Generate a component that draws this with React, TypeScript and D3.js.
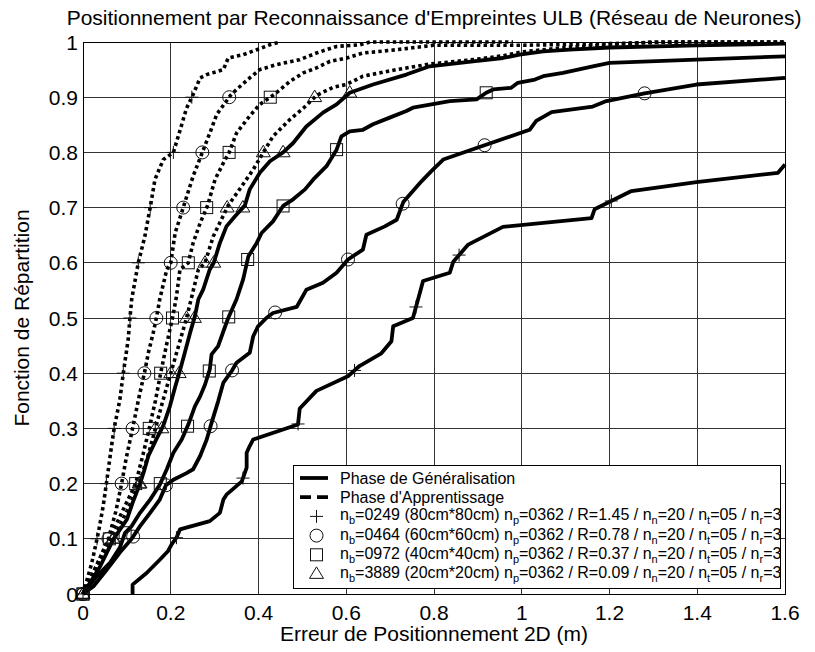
import React from "react";
import * as d3 from "d3";

// ---- axes ----
const X_TICKS = [0, 0.2, 0.4, 0.6, 0.8, 1, 1.2, 1.4, 1.6];
const X_TICK_LABELS = ["0", "0.2", "0.4", "0.6", "0.8", "1", "1.2", "1.4", "1.6"];
const Y_TICKS = [0, 0.1, 0.2, 0.3, 0.4, 0.5, 0.6, 0.7, 0.8, 0.9, 1];
const Y_TICK_LABELS = ["0", "0.1", "0.2", "0.3", "0.4", "0.5", "0.6", "0.7", "0.8", "0.9", "1"];

const TITLE = "Positionnement par Reconnaissance d'Empreintes ULB (Réseau de Neurones)";
const X_LABEL = "Erreur de Positionnement 2D (m)";
const Y_LABEL = "Fonction de Répartition";

// ---- empirical CDFs, generalisation phase (solid) ----
const GEN_80 = [
  [0.113, 0], [0.113, 0.017], [0.145, 0.038], [0.175, 0.062], [0.194, 0.078], [0.202, 0.09],
  [0.213, 0.102], [0.221, 0.117], [0.289, 0.132], [0.312, 0.147], [0.32, 0.171], [0.327, 0.18],
  [0.362, 0.204], [0.373, 0.229], [0.373, 0.256], [0.38, 0.268], [0.388, 0.28], [0.49, 0.307],
  [0.494, 0.336], [0.532, 0.368], [0.605, 0.395], [0.63, 0.413], [0.68, 0.436], [0.703, 0.458],
  [0.707, 0.485], [0.752, 0.5], [0.768, 0.546], [0.775, 0.567], [0.836, 0.582], [0.844, 0.602],
  [0.878, 0.633], [0.957, 0.665], [1.159, 0.681], [1.166, 0.697], [1.25, 0.73], [1.398, 0.746],
  [1.584, 0.763], [1.6, 0.778],
];
const GEN_60 = [
  [0, 0], [0.024, 0.014], [0.054, 0.044], [0.084, 0.075], [0.111, 0.1], [0.13, 0.123],
  [0.153, 0.147], [0.175, 0.171], [0.189, 0.197], [0.206, 0.207], [0.236, 0.219], [0.251, 0.226],
  [0.267, 0.25], [0.282, 0.28], [0.293, 0.31], [0.308, 0.349], [0.32, 0.383], [0.339, 0.404],
  [0.35, 0.419], [0.38, 0.437], [0.388, 0.467], [0.399, 0.485], [0.418, 0.5], [0.433, 0.509],
  [0.487, 0.52], [0.509, 0.551], [0.547, 0.564], [0.578, 0.582], [0.604, 0.606], [0.638, 0.624],
  [0.646, 0.651], [0.688, 0.666], [0.715, 0.678], [0.73, 0.71], [0.772, 0.748], [0.794, 0.766],
  [0.821, 0.787], [0.897, 0.808], [1.018, 0.841], [1.033, 0.857], [1.068, 0.873], [1.162, 0.883],
  [1.193, 0.893], [1.28, 0.907], [1.398, 0.923], [1.6, 0.935],
];
const GEN_40 = [
  [0, 0], [0.031, 0.032], [0.062, 0.057], [0.084, 0.084], [0.096, 0.111], [0.111, 0.123],
  [0.13, 0.147], [0.153, 0.171], [0.175, 0.198], [0.191, 0.226], [0.206, 0.256], [0.225, 0.28],
  [0.24, 0.307], [0.255, 0.34], [0.267, 0.358], [0.278, 0.379], [0.289, 0.407], [0.293, 0.434],
  [0.308, 0.449], [0.32, 0.476], [0.331, 0.5], [0.35, 0.534], [0.365, 0.57], [0.377, 0.612],
  [0.396, 0.636], [0.407, 0.654], [0.433, 0.675], [0.456, 0.703], [0.479, 0.715], [0.506, 0.733],
  [0.525, 0.751], [0.555, 0.775], [0.578, 0.805], [0.589, 0.829], [0.608, 0.838], [0.638, 0.841],
  [0.661, 0.851], [0.699, 0.863], [0.737, 0.875], [0.752, 0.881], [0.836, 0.893], [0.897, 0.896],
  [0.919, 0.908], [0.935, 0.914], [0.976, 0.917], [0.991, 0.926], [1.03, 0.932], [1.049, 0.938],
  [1.094, 0.944], [1.162, 0.956], [1.2, 0.962], [1.398, 0.968], [1.6, 0.974],
];
const GEN_20 = [
  [0, 0], [0.039, 0.05], [0.069, 0.099], [0.1, 0.135], [0.113, 0.165], [0.13, 0.2],
  [0.14, 0.225], [0.149, 0.25], [0.167, 0.28], [0.183, 0.305], [0.198, 0.34], [0.21, 0.375],
  [0.221, 0.405], [0.232, 0.437], [0.244, 0.473], [0.255, 0.503], [0.263, 0.534], [0.274, 0.552],
  [0.289, 0.588], [0.298, 0.6], [0.312, 0.636], [0.327, 0.666], [0.346, 0.684], [0.369, 0.704],
  [0.38, 0.733], [0.403, 0.763], [0.426, 0.784], [0.456, 0.8], [0.479, 0.817], [0.509, 0.847],
  [0.547, 0.872], [0.578, 0.887], [0.608, 0.908], [0.661, 0.923], [0.737, 0.941], [0.79, 0.956],
  [0.889, 0.965], [0.957, 0.971], [0.995, 0.977], [1.049, 0.983], [1.109, 0.986], [1.2, 0.99],
  [1.4, 0.994], [1.6, 0.997],
];

// ---- empirical CDFs, training phase (dashed) ----
const TRAIN_80 = [
  [0, 0], [0.02, 0.056], [0.035, 0.111], [0.046, 0.159], [0.054, 0.204], [0.065, 0.268],
  [0.071, 0.3], [0.084, 0.352], [0.092, 0.401], [0.103, 0.461], [0.107, 0.5], [0.111, 0.534],
  [0.126, 0.6], [0.141, 0.648], [0.154, 0.704], [0.164, 0.751], [0.183, 0.787], [0.206, 0.8],
  [0.217, 0.829], [0.236, 0.88], [0.251, 0.905], [0.267, 0.935], [0.282, 0.941], [0.32, 0.95],
  [0.331, 0.971], [0.365, 0.977], [0.396, 0.986], [0.426, 0.995], [0.449, 1.0],
];
const TRAIN_60 = [
  [0, 0], [0.03, 0.05], [0.058, 0.1], [0.075, 0.15], [0.088, 0.2], [0.098, 0.244],
  [0.113, 0.3], [0.128, 0.358], [0.141, 0.404], [0.149, 0.437], [0.16, 0.473], [0.168, 0.503],
  [0.175, 0.534], [0.191, 0.588], [0.2, 0.6], [0.21, 0.654], [0.23, 0.704], [0.251, 0.757],
  [0.272, 0.8], [0.289, 0.835], [0.305, 0.869], [0.336, 0.903], [0.35, 0.914], [0.38, 0.935],
  [0.403, 0.95], [0.441, 0.959], [0.494, 0.968], [0.532, 0.98], [0.578, 0.992], [0.631, 0.995],
  [0.654, 1.0], [0.98, 1.0],
];
const TRAIN_40 = [
  [0, 0], [0.03, 0.05], [0.06, 0.1], [0.09, 0.15], [0.12, 0.2], [0.136, 0.25],
  [0.151, 0.3], [0.165, 0.35], [0.177, 0.4], [0.19, 0.45], [0.204, 0.5], [0.213, 0.539],
  [0.221, 0.588], [0.24, 0.6], [0.251, 0.636], [0.267, 0.672], [0.284, 0.704], [0.301, 0.751],
  [0.32, 0.781], [0.333, 0.8], [0.35, 0.835], [0.38, 0.866], [0.403, 0.887], [0.436, 0.905],
  [0.472, 0.929], [0.502, 0.944], [0.532, 0.953], [0.563, 0.965], [0.601, 0.971], [0.638, 0.98],
  [0.715, 0.986], [0.798, 0.994], [0.99, 0.994], [1.15, 0.996], [1.35, 1.0], [1.6, 1.0],
];
const TRAIN_20 = [
  [0, 0], [0.035, 0.05], [0.068, 0.1], [0.1, 0.15], [0.128, 0.2], [0.148, 0.25],
  [0.165, 0.3], [0.182, 0.35], [0.2, 0.4], [0.218, 0.45], [0.236, 0.5], [0.248, 0.539],
  [0.263, 0.588], [0.278, 0.6], [0.297, 0.648], [0.331, 0.704], [0.362, 0.739], [0.388, 0.769],
  [0.411, 0.8], [0.433, 0.829], [0.472, 0.86], [0.502, 0.88], [0.532, 0.903], [0.57, 0.918],
  [0.6, 0.923], [0.638, 0.938], [0.715, 0.95], [0.79, 0.96], [0.889, 0.968], [0.957, 0.975],
  [1.0, 0.982], [1.1, 0.99], [1.2, 0.995], [1.3, 1.0], [1.6, 1.0],
];

// probability levels at which each curve carries its marker
const DECILES = [0, 0.1, 0.2, 0.3, 0.4, 0.5, 0.6, 0.7, 0.8, 0.9];
const GEN_80_MARKS = [0.102, 0.21, 0.308, 0.405, 0.52, 0.614, 0.712];
const GEN_60_MARKS = [0, 0.104, 0.197, 0.304, 0.405, 0.51, 0.606, 0.707, 0.813, 0.907];
const GEN_40_MARKS = [0, 0.111, 0.2, 0.304, 0.404, 0.502, 0.606, 0.703, 0.805, 0.908];
const GEN_20_MARKS = [0, 0.1, 0.2, 0.3, 0.4, 0.5, 0.6, 0.7, 0.8, 0.908];

// ---- legend content ----
const SHAPES = ["plus", "circle", "square", "triangle"];
const NB = ["0249", "0464", "0972", "3889"];
const CELL = ["80cm*80cm", "60cm*60cm", "40cm*40cm", "20cm*20cm"];
const RADIUS = ["1.45", "0.78", "0.37", "0.09"];
const NP = "0362";
const NN = "20";
const NT = "05";
const NR = "3";
const PHASE_LABELS = ["Phase de Généralisation", "Phase d'Apprentissage"];

const GEN = [GEN_80, GEN_60, GEN_40, GEN_20];
const GEN_MARKS = [GEN_80_MARKS, GEN_60_MARKS, GEN_40_MARKS, GEN_20_MARKS];
const TRAIN = [TRAIN_80, TRAIN_60, TRAIN_40, TRAIN_20];

const FONT = "Arial, 'Liberation Sans', Helvetica, sans-serif";
const W = 815;
const H = 652;
const PLOT = { left: 83, right: 785, top: 42, bottom: 594 };

const xScale = d3.scaleLinear().domain([0, 1.6]).range([PLOT.left, PLOT.right]);
const yScale = d3.scaleLinear().domain([0, 1]).range([PLOT.bottom, PLOT.top]);
const lineGen = d3
  .line<number[]>()
  .x((d) => xScale(d[0]))
  .y((d) => yScale(d[1]));

function xAtLevel(pts: number[][], lvl: number): number | null {
  for (let i = 0; i < pts.length; i++) {
    if (pts[i][1] >= lvl) {
      if (i === 0) return pts[0][0];
      const [x0, y0] = pts[i - 1];
      const [x1, y1] = pts[i];
      const t = y1 === y0 ? 0 : (lvl - y0) / (y1 - y0);
      return x0 + t * (x1 - x0);
    }
  }
  return null;
}

function Marker({ shape, cx, cy }: { shape: string; cx: number; cy: number }) {
  const s = 6.5;
  const common = { fill: "none", stroke: "#111", strokeWidth: 1 };
  if (shape === "plus")
    return <path d={`M${cx - s},${cy}H${cx + s}M${cx},${cy - s}V${cy + s}`} {...common} />;
  if (shape === "circle") return <circle cx={cx} cy={cy} r={s} {...common} />;
  if (shape === "square")
    return <rect x={cx - 6} y={cy - 6} width={12} height={12} {...common} />;
  const h = 11.5;
  return (
    <path
      d={`M${cx},${cy - h * 0.62}L${cx + 7},${cy + h * 0.38}L${cx - 7},${cy + h * 0.38}Z`}
      {...common}
    />
  );
}

function Sub({ children }: { children: string }) {
  return (
    <tspan fontSize={11} dy={4}>
      {children}
    </tspan>
  );
}
function Up({ children }: { children: string }) {
  return <tspan dy={-4}>{children}</tspan>;
}

export default function App() {
  const legend = { x: 293, y: 465, w: 487, h: 123 };
  const rowY = (i: number) => 478 + i * 19.2;

  return (
    <svg
      width={W}
      height={H}
      style={{ position: "absolute", left: 0, top: 0, display: "block", background: "#fff" }}
      fontFamily={FONT}
    >
      <rect x={0} y={0} width={W} height={H} fill="#fff" />
      {/* grid */}
      <g stroke="#333" strokeWidth={1} shapeRendering="crispEdges">
        {X_TICKS.map((t) => (
          <line key={"gx" + t} x1={xScale(t)} x2={xScale(t)} y1={PLOT.top} y2={PLOT.bottom} />
        ))}
        {Y_TICKS.map((t) => (
          <line key={"gy" + t} x1={PLOT.left} x2={PLOT.right} y1={yScale(t)} y2={yScale(t)} />
        ))}
      </g>

      {/* training curves */}
      {TRAIN.map((pts, i) => (
        <path
          key={"tr" + i}
          d={lineGen(pts) || ""}
          fill="none"
          stroke="#000"
          strokeWidth={3.6}
          strokeDasharray="3.4 3.2"
        />
      ))}
      {/* generalisation curves */}
      {GEN.map((pts, i) => (
        <path
          key={"ge" + i}
          d={lineGen(pts) || ""}
          fill="none"
          stroke="#000"
          strokeWidth={3.8}
          strokeLinejoin="round"
        />
      ))}

      {/* markers */}
      {TRAIN.map((pts, i) =>
        DECILES.map((lvl) => {
          const xv = xAtLevel(pts, lvl);
          if (xv === null) return null;
          return <Marker key={`tm${i}-${lvl}`} shape={SHAPES[i]} cx={xScale(xv)} cy={yScale(lvl)} />;
        })
      )}
      {GEN.map((pts, i) =>
        GEN_MARKS[i].map((lvl) => {
          const xv = xAtLevel(pts, lvl);
          if (xv === null) return null;
          return <Marker key={`gm${i}-${lvl}`} shape={SHAPES[i]} cx={xScale(xv)} cy={yScale(lvl)} />;
        })
      )}

      {/* frame */}
      <rect
        x={PLOT.left}
        y={PLOT.top}
        width={PLOT.right - PLOT.left}
        height={PLOT.bottom - PLOT.top}
        fill="none"
        stroke="#000"
        strokeWidth={1}
        shapeRendering="crispEdges"
      />

      {/* tick labels */}
      <g fontSize={21} fill="#000">
        {X_TICKS.map((t, i) => (
          <text key={"xl" + t} x={xScale(t)} y={620} textAnchor="middle">
            {X_TICK_LABELS[i]}
          </text>
        ))}
        {Y_TICKS.map((t, i) => (
          <text key={"yl" + t} x={78} y={yScale(t) + 7.5} textAnchor="end">
            {Y_TICK_LABELS[i]}
          </text>
        ))}
      </g>

      {/* titles */}
      <text x={434} y={25} textAnchor="middle" fontSize={21}>
        {TITLE}
      </text>
      <text x={434} y={641} textAnchor="middle" fontSize={21}>
        {X_LABEL}
      </text>
      <text transform={`translate(29,318) rotate(-90)`} textAnchor="middle" fontSize={21}>
        {Y_LABEL}
      </text>

      {/* legend */}
      <g>
        <rect
          x={legend.x}
          y={legend.y}
          width={legend.w}
          height={legend.h}
          fill="#fff"
          stroke="#000"
          strokeWidth={1}
          shapeRendering="crispEdges"
        />
        <line x1={300} x2={328} y1={rowY(0)} y2={rowY(0)} stroke="#000" strokeWidth={3.8} />
        <line
          x1={300}
          x2={328}
          y1={rowY(1)}
          y2={rowY(1)}
          stroke="#000"
          strokeWidth={3.8}
          strokeDasharray="11 6"
        />
        {PHASE_LABELS.map((lab, i) => (
          <text key={lab} x={340} y={rowY(i) + 6} fontSize={16}>
            {lab}
          </text>
        ))}
        {SHAPES.map((sh, i) => (
          <g key={"lg" + sh}>
            <Marker shape={sh} cx={316.5} cy={rowY(i + 2)} />
            <text x={340} y={rowY(i + 2) + 4} fontSize={16}>
              n<Sub>b</Sub>
              <Up>{`=${NB[i]} (${CELL[i]}) n`}</Up>
              <Sub>p</Sub>
              <Up>{`=${NP} / R=${RADIUS[i]} / n`}</Up>
              <Sub>n</Sub>
              <Up>{`=${NN} / n`}</Up>
              <Sub>t</Sub>
              <Up>{`=${NT} / n`}</Up>
              <Sub>r</Sub>
              <Up>{`=${NR}`}</Up>
            </text>
          </g>
        ))}
      </g>
    </svg>
  );
}
